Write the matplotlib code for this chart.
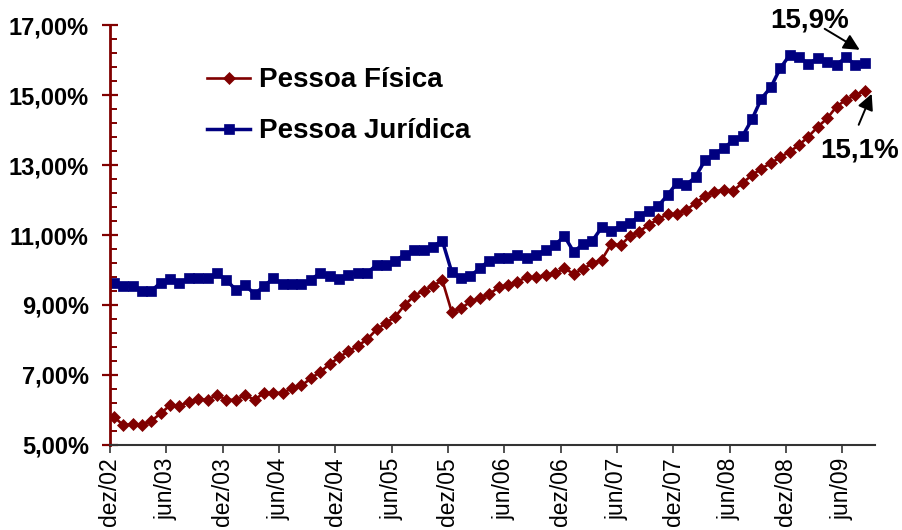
#!/usr/bin/env python3
"""Inadimplência (spread) - Pessoa Física vs Pessoa Jurídica, dez/02 a ago/09."""

import matplotlib
matplotlib.use("Agg")
import matplotlib.pyplot as plt  # noqa: E402
import numpy as np  # noqa: E402
from matplotlib.ticker import FixedLocator, FuncFormatter  # noqa: E402
from matplotlib.transforms import offset_copy  # noqa: E402

plt.rcParams["font.family"] = ["Liberation Sans", "DejaVu Sans"]

# ---------------------------------------------------------------------------
# Data (monthly, dez/02 .. ago/09), values in %
# ---------------------------------------------------------------------------

pessoa_fisica = [
    5.81, 5.57, 5.59, 5.57, 5.69, 5.90, 6.14, 6.11, 6.24, 6.31,
    6.29, 6.43, 6.29, 6.29, 6.43, 6.29, 6.49, 6.49, 6.49, 6.62,
    6.70, 6.90, 7.09, 7.31, 7.50, 7.68, 7.83, 8.02, 8.30, 8.48,
    8.67, 9.00, 9.26, 9.41, 9.54, 9.71, 8.81, 8.90, 9.10, 9.19,
    9.31, 9.50, 9.57, 9.67, 9.79, 9.79, 9.86, 9.90, 10.05, 9.89,
    10.03, 10.19, 10.30, 10.74, 10.71, 10.97, 11.10, 11.29, 11.45, 11.60,
    11.60, 11.71, 11.92, 12.11, 12.24, 12.30, 12.27, 12.49, 12.71, 12.90,
    13.05, 13.22, 13.38, 13.57, 13.81, 14.09, 14.33, 14.67, 14.86, 15.00,
    15.12,
]

pessoa_juridica = [
    9.63, 9.53, 9.53, 9.40, 9.40, 9.64, 9.75, 9.62, 9.76, 9.76,
    9.76, 9.90, 9.72, 9.43, 9.57, 9.31, 9.54, 9.76, 9.60, 9.60,
    9.60, 9.72, 9.92, 9.82, 9.73, 9.86, 9.92, 9.92, 10.14, 10.14,
    10.27, 10.43, 10.57, 10.57, 10.67, 10.84, 9.95, 9.76, 9.83, 10.05,
    10.27, 10.33, 10.35, 10.43, 10.33, 10.43, 10.57, 10.71, 10.97, 10.52,
    10.74, 10.84, 11.22, 11.12, 11.26, 11.33, 11.55, 11.69, 11.83, 12.14,
    12.49, 12.43, 12.67, 13.14, 13.31, 13.48, 13.71, 13.83, 14.31, 14.90,
    15.22, 15.76, 16.14, 16.08, 15.89, 16.05, 15.95, 15.86, 16.08, 15.86,
    15.92,
]

tick_labels = [
    "dez/02", "jun/03", "dez/03", "jun/04", "dez/04", "jun/05", "dez/05",
    "jun/06", "dez/06", "jun/07", "dez/07", "jun/08", "dez/08", "jun/09",
]

labels = ["Pessoa Física", "Pessoa Jurídica"]
end_notes = ["15,1%", "15,9%"]

RED = "#800000"
BLUE = "#000080"


def pct(v, _pos):
    return f"{v:.2f}%".replace(".", ",")


def add_note(ax, x, y, text, tip, tail, txt):
    """Arrow + label placed relative to a data point (offsets in pixels)."""
    fig = ax.figure
    ax.annotate(
        "",
        xy=(x, y), xycoords=offset_copy(ax.transData, fig=fig, x=tip[0], y=tip[1], units="dots"),
        xytext=(x, y), textcoords=offset_copy(ax.transData, fig=fig, x=tail[0], y=tail[1], units="dots"),
        arrowprops=dict(arrowstyle="-|>", color="black", lw=1.4, mutation_scale=24,
                        shrinkA=0, shrinkB=0),
    )
    ax.text(x, y, text, transform=offset_copy(ax.transData, fig=fig, x=txt[0], y=txt[1], units="dots"),
            ha="center", va="center", fontsize=20, fontweight="bold")


def main():
    n = len(pessoa_fisica)
    x = np.arange(n) + 0.4

    fig = plt.figure(figsize=(9.03, 5.30), dpi=100)
    ax = fig.add_axes([0.1218, 0.1604, 0.8472, 0.7924])

    ax.plot(x, pessoa_fisica, color=RED, lw=1.9, marker="D", ms=6.3, mew=0.5, label=labels[0])
    ax.plot(x, pessoa_juridica, color=BLUE, lw=2.5, marker="s", ms=7.5, mew=0.5, label=labels[1])

    ax.set_xlim(0, 81.5)
    ax.set_ylim(5, 17)

    ax.set_xticks(np.arange(len(tick_labels)) * 6)
    ax.set_xticklabels(tick_labels, rotation=90, fontsize=16.5)
    ax.tick_params(axis="x", direction="out", length=6, width=1.2, color="#333333", pad=3)

    ax.yaxis.set_major_locator(FixedLocator(np.arange(5, 17.01, 2)))
    ax.yaxis.set_minor_locator(FixedLocator(np.arange(5, 17.01, 0.4)))
    ax.yaxis.set_major_formatter(FuncFormatter(pct))
    ax.tick_params(axis="y", which="major", direction="inout", length=11.5, width=1.6,
                   color=RED, pad=9.5, labelsize=17)
    ax.tick_params(axis="y", which="minor", direction="in", length=5, width=1.4, color=RED)
    for lab in ax.get_yticklabels():
        lab.set_fontweight("bold")

    for side in ("top", "right"):
        ax.spines[side].set_visible(False)
    ax.spines["left"].set_color(RED)
    ax.spines["left"].set_linewidth(2)
    ax.spines["bottom"].set_color("#333333")
    ax.spines["bottom"].set_linewidth(1.5)

    ax.legend(loc="upper left", bbox_to_anchor=(0.127, 0.899), frameon=False,
              prop={"size": 20, "weight": "bold"}, handlelength=1.55, handletextpad=0.3,
              labelspacing=0.9, borderpad=0, borderaxespad=0, numpoints=1)

    add_note(ax, x[-1], pessoa_juridica[-1], end_notes[1], tip=(-5, 13), tail=(-40, 34), txt=(-55, 42))
    add_note(ax, x[-1], pessoa_fisica[-1], end_notes[0], tip=(7, -3), tail=(-6, -34), txt=(-5, -60))

    fig.savefig("out.png", dpi=100)
    plt.close(fig)


if __name__ == "__main__":
    main()
